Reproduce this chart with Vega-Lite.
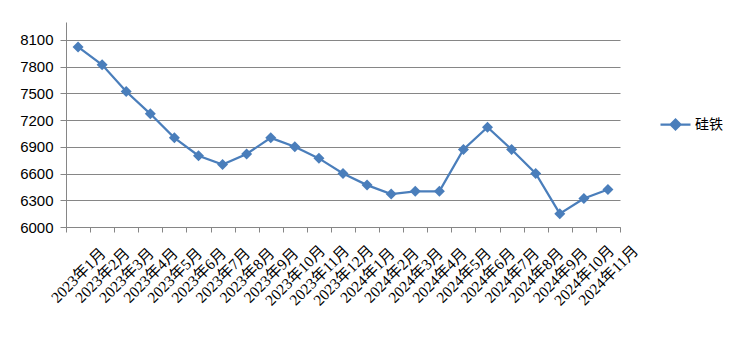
{
  "$schema": "https://vega.github.io/schema/vega-lite/v6.json",
  "width": 554,
  "height": 205,
  "autosize": {"type": "none"},
  "padding": {"left": 66, "top": 22, "right": 123, "bottom": 129},
  "background": "white",
  "data": {
    "values": [
      {"month": "2023年1月", "series": "硅铁", "value": 8020},
      {"month": "2023年2月", "series": "硅铁", "value": 7820},
      {"month": "2023年3月", "series": "硅铁", "value": 7520},
      {"month": "2023年4月", "series": "硅铁", "value": 7270},
      {"month": "2023年5月", "series": "硅铁", "value": 7000},
      {"month": "2023年6月", "series": "硅铁", "value": 6800},
      {"month": "2023年7月", "series": "硅铁", "value": 6700},
      {"month": "2023年8月", "series": "硅铁", "value": 6820},
      {"month": "2023年9月", "series": "硅铁", "value": 7000},
      {"month": "2023年10月", "series": "硅铁", "value": 6900},
      {"month": "2023年11月", "series": "硅铁", "value": 6770},
      {"month": "2023年12月", "series": "硅铁", "value": 6600},
      {"month": "2024年1月", "series": "硅铁", "value": 6470},
      {"month": "2024年2月", "series": "硅铁", "value": 6370},
      {"month": "2024年3月", "series": "硅铁", "value": 6400},
      {"month": "2024年4月", "series": "硅铁", "value": 6400},
      {"month": "2024年5月", "series": "硅铁", "value": 6870},
      {"month": "2024年6月", "series": "硅铁", "value": 7120},
      {"month": "2024年7月", "series": "硅铁", "value": 6870},
      {"month": "2024年8月", "series": "硅铁", "value": 6600},
      {"month": "2024年9月", "series": "硅铁", "value": 6150},
      {"month": "2024年10月", "series": "硅铁", "value": 6320},
      {"month": "2024年11月", "series": "硅铁", "value": 6420}
    ]
  },
  "encoding": {
    "x": {
      "field": "month",
      "type": "nominal",
      "sort": null,
      "bandPosition": 0.5,
      "scale": {"type": "band", "paddingInner": 0, "paddingOuter": 0},
      "axis": {
        "title": null,
        "labelAngle": -45,
        "labelAlign": "center",
        "labelBaseline": "middle",
        "labelPadding": 43,
        "labelOverlap": false,
        "labelLimit": 0,
        "tickBand": "extent",
        "tickSize": 5,
        "tickColor": "#868686",
        "domainColor": "#868686",
        "labelFont": "'Liberation Serif', 'Noto Sans CJK SC', serif",
        "labelFontSize": 15.5,
        "labelColor": "#000000",
        "grid": false
      }
    },
    "y": {
      "field": "value",
      "type": "quantitative",
      "scale": {"domain": [6000, 8300], "nice": false, "zero": false},
      "axis": {
        "title": null,
        "values": [6000, 6300, 6600, 6900, 7200, 7500, 7800, 8100],
        "format": "d",
        "grid": true,
        "gridColor": "#868686",
        "gridOpacity": 1,
        "tickSize": 6,
        "tickColor": "#868686",
        "domainColor": "#868686",
        "labelPadding": 7,
        "labelFont": "'Liberation Sans', Arial, sans-serif",
        "labelFontSize": 15,
        "labelColor": "#000000"
      }
    }
  },
  "layer": [
    {
      "mark": {"type": "line", "strokeWidth": 2.25, "color": "#4A7EBB"},
      "encoding": {
        "color": {
          "field": "series",
          "type": "nominal",
          "scale": {"range": ["#4A7EBB"]},
          "legend": {
            "orient": "none",
            "legendX": 593,
            "legendY": 86,
            "title": null,
            "padding": 0,
            "symbolType": "M-1,0L1,0M-0.33,0L0,-0.33L0.33,0L0,0.33Z",
            "symbolSize": 900,
            "symbolStrokeWidth": 2.25,
            "symbolFillColor": "#4A7EBB",
            "symbolStrokeColor": "#4A7EBB",
            "labelFont": "'Noto Sans CJK SC'",
            "labelFontSize": 14,
            "labelColor": "#000000",
            "labelOffset": 3,
            "encode": {
              "symbols": {
                "update": {
                  "fill": {"value": "#4A7EBB"},
                  "stroke": {"value": "#4A7EBB"},
                  "strokeWidth": {"value": 2.25}
                }
              }
            }
          }
        }
      }
    },
    {
      "mark": {"type": "point", "shape": "diamond", "filled": true, "size": 121, "opacity": 1, "color": "#4A7EBB"}
    }
  ],
  "config": {"view": {"stroke": null}}
}
